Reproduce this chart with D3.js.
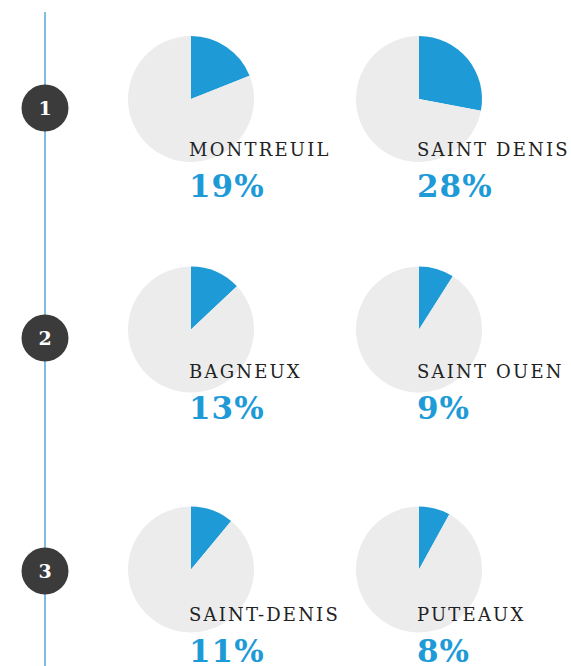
<!DOCTYPE html>
<html>
<head>
<meta charset="utf-8">
<script src="https://cdn.jsdelivr.net/npm/d3@7"></script>
<style>
  body { margin: 0; background: #fff; }
  svg { display: block; }
</style>
</head>
<body>
<div id="chart"></div>
<script>
// data
const ranks = [1, 2, 3]
const leftCities = ['MONTREUIL', 'BAGNEUX', 'SAINT-DENIS']
const leftShares = [19, 13, 11]
const rightCities = ['SAINT DENIS', 'SAINT OUEN', 'PUTEAUX']
const rightShares = [28, 9, 8]

const width = 571, height = 666
const blue = '#1e9bd7', grey = '#ececec', dark = '#3b3b3b'

let svg = d3.select('#chart').append('svg')
    .attr('width', width).attr('height', height)

// row layout (rows are not evenly spaced in the original)
let scPie = d3.scaleOrdinal().domain([0, 1, 2]).range([99, 329.5, 569.5])
let scLabel = d3.scaleOrdinal().domain([0, 1, 2]).range([156, 378, 621])
let scBadge = d3.scaleOrdinal().domain([0, 1, 2]).range([108, 338, 571])
let scCol = d3.scalePoint().domain([0, 1]).range([191, 419])
let r = 63

// timeline
svg.append('line')
    .attr('x1', 45).attr('x2', 45)
    .attr('y1', 12).attr('y2', height)
    .attr('stroke', '#2b92d4').attr('stroke-width', 1.2)

let badge = svg.selectAll('g.badge')
    .data(ranks)
    .enter()
    .append('g')
    .attr('class', 'badge')
    .attr('transform', (d, i) => `translate(45 ${scBadge(i)})`)
badge.append('circle').attr('r', 23.5).attr('fill', dark)
badge.append('text')
    .attr('text-anchor', 'middle')
    .attr('dy', '0.36em')
    .attr('fill', '#fff')
    .style('font-family', '"DejaVu Serif", serif')
    .style('font-weight', 'bold')
    .style('font-size', '19px')
    .text(d => d)

// build cells from the arrays
let cells = []
ranks.forEach((rk, i) => {
    cells.push({row: i, col: 0, name: leftCities[i], value: leftShares[i]})
    cells.push({row: i, col: 1, name: rightCities[i], value: rightShares[i]})
})

let pie = d3.pie().sort(null).value(d => d)
let arc = d3.arc().innerRadius(0).outerRadius(r)

let g = svg.selectAll('g.cell')
    .data(cells)
    .enter()
    .append('g')
    .attr('class', 'cell')
    .attr('transform', d => `translate(${scCol(d.col)} 0)`)

g.append('g')
    .attr('transform', d => `translate(0 ${scPie(d.row)})`)
    .selectAll('path')
    .data(d => pie([d.value, 100 - d.value]))
    .enter()
    .append('path')
    .attr('d', arc)
    .attr('fill', (d, i) => i === 0 ? blue : grey)

g.append('text')
    .attr('x', -2).attr('y', d => scLabel(d.row))
    .attr('fill', '#222')
    .style('font-family', '"DejaVu Serif", serif')
    .style('font-size', '18px')
    .style('letter-spacing', '2.2px')
    .text(d => d.name)

g.append('text')
    .attr('x', -2).attr('y', d => scLabel(d.row) + 41)
    .attr('fill', blue)
    .style('font-family', '"DejaVu Serif", serif')
    .style('font-weight', 'bold')
    .style('font-size', '31px')
    .style('letter-spacing', '1px')
    .text(d => d.value + '%')
</script>
</body>
</html>
